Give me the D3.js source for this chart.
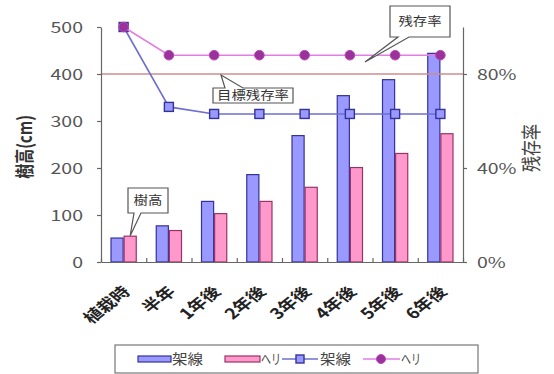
<!DOCTYPE html>
<html><head><meta charset="utf-8">
<script src="https://cdn.jsdelivr.net/npm/d3@7/dist/d3.min.js"></script>
<style>
body{margin:0;background:#fff;}
svg{display:block;font-family:"Noto Sans CJK JP","Noto Sans",sans-serif;}
</style></head><body>
<script>
const categories = ["植栽時","半年","1年後","2年後","3年後","4年後","5年後","6年後"];
const heightKasen = [52, 78, 130, 187, 270, 355, 389, 445];
const heightHeli  = [56, 68, 104, 130, 160, 202, 232, 274];
const survKasen = [100, 66, 63, 63, 63, 63, 63, 63];
const survHeli  = [100, 88, 88, 88, 88, 88, 88, 88];
const targetRate = 80;
const leftTicks = [0,100,200,300,400,500];
const rightTicks = [0,40,80];
const seriesNames = ["架線","ヘリ"];

const W=554,H=374, L=101,R=463,T=27,B=262, SX=1.3;
const svg=d3.select("body").append("svg").attr("width",W).attr("height",H);

const y=d3.scaleLinear().domain([0,500]).range([B,T]);
const yR=d3.scaleLinear().domain([0,100]).range([B,T]);
const x0=d3.scaleBand().domain(categories).range([L,R]).paddingInner(0.42).paddingOuter(0.21);
const x1=d3.scaleBand().domain([0,1]).range([0,x0.bandwidth()]);
const xc=d=>x0(d)+x0.bandwidth()/2;
const xb=d3.scaleLinear().domain([0,categories.length]).range([L,R]);

// bars
const barFill=["#9999ff","#ff99cc"], barStroke=["#333399","#993366"];
[heightKasen,heightHeli].forEach((arr,si)=>{
  svg.append("g").selectAll("rect").data(arr).join("rect")
    .attr("x",(d,i)=>x0(categories[i])+x1(si)+0.5)
    .attr("y",d=>y(d)+0.5)
    .attr("width",x1.bandwidth()-1)
    .attr("height",d=>B-y(d)-0.5)
    .attr("fill",barFill[si]).attr("stroke",barStroke[si]).attr("stroke-width",1.2);
});

// target line
svg.append("line").attr("x1",L).attr("x2",R).attr("y1",yR(targetRate)).attr("y2",yR(targetRate))
  .attr("stroke","#d08c8c").attr("stroke-width",1.6);

// axes
const ga=svg.append("g").attr("transform",`translate(${L},0)`)
  .call(d3.axisLeft(y).tickValues(leftTicks).tickSize(4).tickSizeOuter(0));
const gr=svg.append("g").attr("transform",`translate(${R},0)`)
  .call(d3.axisRight(yR).tickValues(rightTicks).tickFormat(d=>d+"%").tickSize(4).tickSizeOuter(0));
const gb=svg.append("g").attr("transform",`translate(0,${B})`)
  .call(d3.axisBottom(xb).ticks(categories.length).tickSize(-4).tickSizeOuter(0).tickFormat(""));
const gl=svg.append("g").attr("transform",`translate(0,${B})`)
  .call(d3.axisBottom(x0).tickSize(0));
gl.select(".domain").remove();
[ga,gr,gb].forEach(g=>{g.selectAll("path,line").attr("stroke","#666").attr("stroke-width",1.2);});
ga.selectAll("text").attr("x",0).attr("dy","0.35em").attr("fill","#555").attr("font-size",15)
  .attr("font-family","Noto Sans CJK JP").attr("text-anchor","end")
  .attr("transform",`translate(-18,0) scale(${SX},1)`);
gr.selectAll("text").attr("x",0).attr("dy","0.35em").attr("fill","#555").attr("font-size",15)
  .attr("font-family","Noto Sans CJK JP").attr("text-anchor","start")
  .attr("transform",`translate(14,0) scale(${SX},1)`);
gl.selectAll("text").attr("x",0).attr("y",0).attr("dy","0.35em").attr("fill","#222").attr("font-size",15)
  .attr("font-weight","bold").attr("font-family","Noto Sans CJK JP").attr("text-anchor","end")
  .attr("transform",`translate(3,27) scale(1.25,1) rotate(-45)`);

// lines
const lineGen=d3.line().x((d,i)=>xc(categories[i])).y(d=>yR(d));
svg.append("path").datum(survKasen).attr("d",lineGen).attr("fill","none").attr("stroke","#6f6fd0").attr("stroke-width",1.6);
svg.append("g").selectAll("rect").data(survKasen).join("rect")
  .attr("x",(d,i)=>xc(categories[i])-4.5).attr("y",d=>yR(d)-4.5).attr("width",9).attr("height",9)
  .attr("fill","#9999ff").attr("stroke","#333399").attr("stroke-width",1.4);
svg.append("path").datum(survHeli).attr("d",lineGen).attr("fill","none").attr("stroke","#e27ee2").attr("stroke-width",1.6);
svg.append("g").selectAll("circle").data(survHeli).join("circle")
  .attr("cx",(d,i)=>xc(categories[i])).attr("cy",d=>yR(d)).attr("r",4.8)
  .attr("fill","#993399").attr("stroke","#bb44bb").attr("stroke-width",1);

// axis titles
svg.append("text").attr("transform",`translate(25,147) rotate(-90) scale(1,${SX})`).attr("text-anchor","middle")
  .attr("dy","0.35em").attr("font-size",15).attr("font-weight","bold").attr("fill","#333").text("樹高(cm)");
svg.append("text").attr("transform",`translate(532,148) rotate(-90) scale(1,${SX})`).attr("text-anchor","middle")
  .attr("dy","0.35em").attr("font-size",16).attr("fill","#444").text("残存率");

// callouts
function callout(path,cx,cy,label){
  svg.append("path").attr("d",path).attr("fill","#fff").attr("stroke","#555").attr("stroke-width",1.2);
  svg.append("text").attr("transform",`translate(${cx},${cy}) scale(1.2,1)`).attr("text-anchor","middle")
    .attr("dy","0.35em").attr("font-size",12).attr("fill","#333").text(label);
}
const kx=x0(categories[0])+x1(1)+x1.bandwidth()/2, ky=y(heightHeli[0]);
callout(`M128,188H168V213H141L${kx},${ky}L134,213H128Z`,148,200.5,"樹高");
callout(`M213,88H225L221,${yR(targetRate)+1}L243,88H293V103H213Z`,253,95.5,"目標残存率");
callout(`M390,6H450V37H409L365,62L398,37H390Z`,420,21.5,"残存率");

// legend
const lg=svg.append("g");
lg.append("rect").attr("x",115).attr("y",345).attr("width",363).attr("height",28).attr("fill","#fff").attr("stroke","#777").attr("stroke-width",1.2);
const ly=359;
[[138,171],[225,260]].forEach((p,i)=>{
  lg.append("rect").attr("x",p[0]).attr("y",ly-3).attr("width",p[1]-p[0]).attr("height",6)
    .attr("fill",barFill[i]).attr("stroke",barStroke[i]).attr("stroke-width",1.2);
});
lg.append("line").attr("x1",282).attr("x2",318).attr("y1",ly).attr("y2",ly).attr("stroke","#6f6fd0").attr("stroke-width",1.6);
lg.append("rect").attr("x",296).attr("y",ly-4).attr("width",8).attr("height",8).attr("fill","#9999ff").attr("stroke","#333399").attr("stroke-width",1.4);
lg.append("line").attr("x1",363).attr("x2",400).attr("y1",ly).attr("y2",ly).attr("stroke","#e27ee2").attr("stroke-width",1.6);
lg.append("circle").attr("cx",381).attr("cy",ly).attr("r",4.5).attr("fill","#993399").attr("stroke","#bb44bb");
[[172,seriesNames[0],31],[261,seriesNames[1],20],[320,seriesNames[0],31],[401,seriesNames[1],20]].forEach(t=>{
  lg.append("text").attr("x",t[0]).attr("y",ly).attr("dy","0.35em")
    .attr("textLength",t[2]).attr("lengthAdjust","spacingAndGlyphs")
    .attr("font-size",14).attr("fill","#444").text(t[1]);
});
</script>
</body></html>
